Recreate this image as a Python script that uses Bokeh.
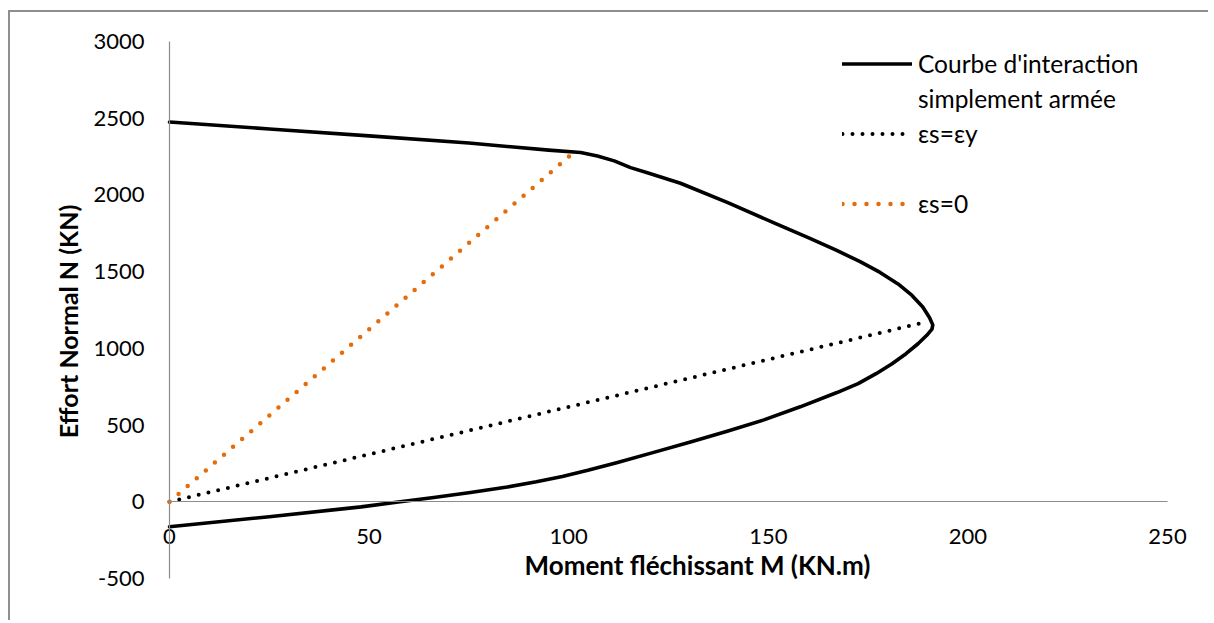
import math
from bokeh.plotting import figure
from bokeh.models import Range1d, Label, Legend, LegendItem
from bokeh.embed import file_html
from bokeh.resources import INLINE

# Interaction curve (M in KN.m, N in KN)
curve_M = [0, 25, 50, 75, 95, 103, 107.2, 111.4, 115.5, 119.7, 128, 140, 152, 160, 167,
           173, 178, 182.5, 186, 188.7, 190.4, 191.2, 191, 189.7, 187.5, 184.5, 181, 177, 172.5,
           167.2, 158, 148.9, 139.7, 130.5, 121.3, 112, 104.8, 98.4, 91.9, 84.6, 75.4, 66.2,
           57.8, 48, 25, 0]
curve_N = [2475, 2430, 2385, 2338, 2292, 2276, 2254, 2222, 2178, 2145, 2076, 1948, 1811, 1722, 1640,
           1565, 1495, 1420, 1345, 1270, 1200, 1153, 1125, 1085, 1030, 965, 900, 835, 770,
           712, 619, 534, 460, 390, 322, 255, 205, 165, 130, 96, 60, 28,
           0, -33, -97, -163]
# es = ey line
ey_M = [0, 190]
ey_N = [0, 1175]
# es = 0 line
e0_M = [0, 100.5]
e0_N = [0, 2260]

x_ticks = [0, 50, 100, 150, 200, 250]
y_ticks = [-500, 0, 500, 1000, 1500, 2000, 2500, 3000]
y_tick_labels = {v: str(v) for v in y_ticks}

FONT = "Lato"

p = figure(width=1200, height=610, output_backend="svg", toolbar_location=None,
           x_range=Range1d(-39.83, 260.77), y_range=Range1d(-786.8, 3189.0),
           min_border=0)
p.styles = {"margin-left": "8px", "margin-top": "10px",
            "border-left": "2px solid #8f8f8f", "border-top": "2px solid #8f8f8f"}
p.grid.visible = False
p.outline_line_color = None
p.background_fill_color = "white"

for ax in p.axis:
    ax.axis_line_color = "#8c8c8c"
    ax.axis_line_width = 1.2
    ax.major_tick_line_color = None
    ax.minor_tick_line_color = None
    ax.major_tick_out = 0
    ax.major_tick_in = 0
    ax.major_label_text_font = FONT
    ax.major_label_text_font_size = "22px"
    ax.major_label_text_color = "black"

p.xaxis.fixed_location = 0
p.yaxis.fixed_location = 0
p.xaxis.bounds = (0, 250)
p.yaxis.bounds = (-500, 3000)
p.xaxis.ticker = x_ticks
p.yaxis.ticker = y_ticks
p.yaxis.major_label_overrides = y_tick_labels
p.xaxis.major_label_standoff = 27
p.yaxis.major_label_standoff = 25

r_curve = p.line(curve_M, curve_N, line_color="black", line_width=3.6, line_join="round", line_cap="round")
r_ey = p.line(ey_M, ey_N, line_color="black", line_width=4, line_dash="0 10", line_cap="round")
r_e0 = p.line(e0_M, e0_N, line_color="#E46C0A", line_width=4.5, line_dash="0 12", line_cap="round")
r_blank = p.line([], [], line_alpha=0)

legend = Legend(items=[
    LegendItem(label="Courbe d'interaction", renderers=[r_curve]),
    LegendItem(label="simplement armée", renderers=[r_blank]),
    LegendItem(label="εs=εy", renderers=[r_ey]),
    LegendItem(label=" ", renderers=[r_blank]),
    LegendItem(label="εs=0", renderers=[r_e0]),
], location=(832, 401))
legend.label_text_font = FONT
legend.label_text_font_size = "24.5px"
legend.label_text_color = "black"
legend.glyph_width = 70
legend.glyph_height = 35
legend.label_height = 35
legend.spacing = 0
legend.padding = 0
legend.margin = 0
legend.label_standoff = 6
legend.border_line_color = None
legend.background_fill_alpha = 0
p.add_layout(legend)

xt = Label(x=687, y=58, x_units="screen", y_units="screen", text="Moment fléchissant M (KN.m)",
           text_font=FONT, text_font_style="bold", text_font_size="26px",
           text_align="center", text_baseline="middle", text_color="black")
yt = Label(x=57, y=301, x_units="screen", y_units="screen", text="Effort Normal N (KN)",
           angle=math.pi / 2, text_font=FONT, text_font_style="bold", text_font_size="25px",
           text_align="center", text_baseline="middle", text_color="black")
p.add_layout(xt)
p.add_layout(yt)

open("out.html", "w").write(file_html(p, INLINE))
